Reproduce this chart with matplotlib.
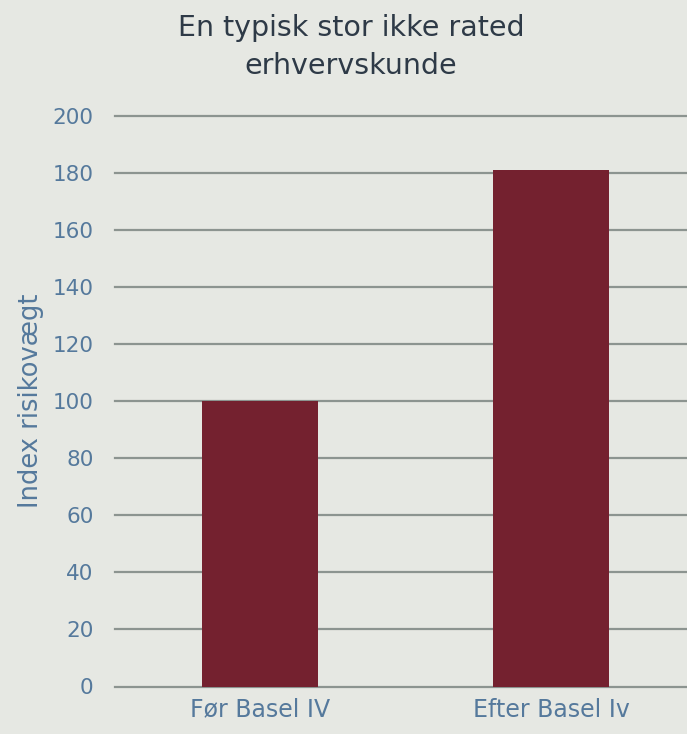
import matplotlib
matplotlib.use("Agg")
import matplotlib.pyplot as plt

categories = ["Før Basel IV", "Efter Basel Iv"]
values = [100, 181]
yticks = [0, 20, 40, 60, 80, 100, 120, 140, 160, 180, 200]

bg = "#E6E8E3"
tick_col = "#55799C"
FAM = "DejaVu Sans"
W = "normal"
fig = plt.figure(figsize=(6.87, 7.34), dpi=100, facecolor=bg)
ax = fig.add_axes([114.5/687, (734-686.5)/734, 582/687, (686.5-116)/734])
ax.set_facecolor(bg)
ax.bar(range(len(categories)), values, width=0.4, color="#74212F", zorder=3)
ax.set_xlim(-0.5, 1.5)
ax.set_ylim(0, 200)
ax.set_yticks(yticks)
ax.set_xticks(range(len(categories)))
ax.set_xticklabels(categories)
ax.grid(axis="y", color="#8C9490", linewidth=1.6, zorder=0)
for gl in ax.get_ygridlines():
    gl.set_clip_on(False)
ax.set_axisbelow(True)
for s in ax.spines.values():
    s.set_visible(False)
ax.tick_params(axis="both", length=0, colors=tick_col)
ax.tick_params(axis="y", pad=15, labelsize=15.5)
ax.tick_params(axis="x", pad=8, labelsize=17)
for lab in ax.get_xticklabels() + ax.get_yticklabels():
    lab.set_family(FAM)
    lab.set_weight(W)
ax.set_ylabel("Index risikovægt", color=tick_col, fontsize=18.5, family=FAM, weight=W, labelpad=6)
fig.text(351/687, 1 - 47/734, "En typisk stor ikke rated\nerhvervskunde", ha="center", va="center",
         fontsize=20.5, color="#2E3A47", family=FAM, weight=W, linespacing=1.5)
fig.savefig("out.png", dpi=100, facecolor=bg)
